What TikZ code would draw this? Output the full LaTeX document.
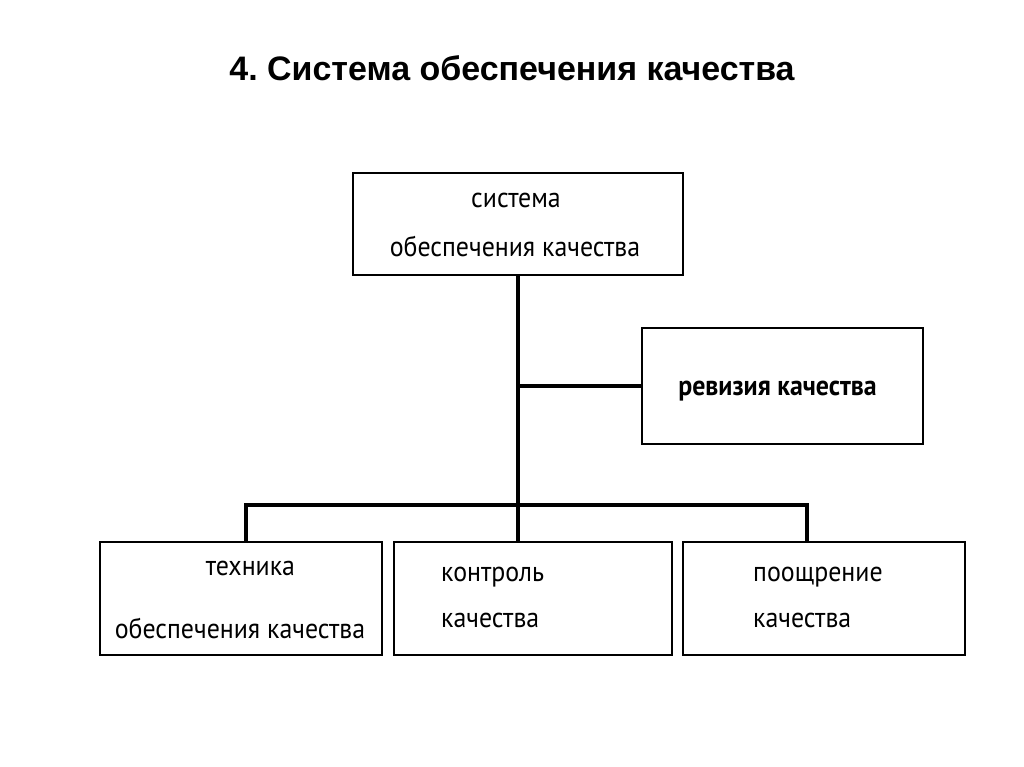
\documentclass[tikz,border=0pt]{standalone}
\usepackage{fontspec}
\setmainfont{PT Sans}[FakeStretch=0.92]
\newfontfamily\headfont{Liberation Sans}
\frenchspacing
\tikzset{
  box/.style={draw,line width=1.3pt,inner sep=0pt},
  boxtext/.style={font=\fontsize{24}{28}\selectfont,inner sep=0pt,anchor=base},
  link/.style={line width=2.6pt}
}
\begin{document}
\begin{tikzpicture}[x=0.03cm,y=-0.03cm]
\useasboundingbox (0,0) rectangle (1024,767);
\node[font=\headfont\bfseries\fontsize{29}{32}\selectfont,anchor=base,inner sep=0pt] (title) at (512,81) {4. Система обеспечения качества};

% boxes
\node[box,minimum width=9.9cm,minimum height=3.06cm] (sys) at (518,224) {};
\node[box,minimum width=8.43cm,minimum height=3.48cm] (rev) at (782.5,386) {};
\node[box,minimum width=8.46cm,minimum height=3.39cm] (tech) at (241,598.5) {};
\node[box,minimum width=8.34cm,minimum height=3.39cm] (ctrl) at (533,598.5) {};
\node[box,minimum width=8.46cm,minimum height=3.39cm] (prom) at (824,598.5) {};

% texts
\node[boxtext] (sys-a) at (516,208) {система};
\node[boxtext] (sys-b) at (515,257) {обеспечения качества};
\node[boxtext,font=\bfseries\fontsize{24}{28}\selectfont] (rev-a) at (777.5,396) {ревизия качества};
\node[boxtext] (tech-a) at (250.5,575) {техника};
\node[boxtext] (tech-b) at (240,638) {обеспечения качества};
\node[boxtext,anchor=base west] (ctrl-a) at (441,582) {контроль};
\node[boxtext,anchor=base west] (ctrl-b) at (441,627) {качества};
\node[boxtext,anchor=base west] (prom-a) at (753,582) {поощрение};
\node[boxtext,anchor=base west] (prom-b) at (753,627) {качества};

% connectors
\coordinate (busL) at (246,505);
\coordinate (busR) at (807,505);
\draw[link] (sys.south) -- (sys.south |- ctrl.north);
\draw[link] (sys.south |- rev.west) -- (rev.west);
\draw[link] (tech.north -| busL) -- (busL) -- (busR) -- (prom.north -| busR);
\end{tikzpicture}
\end{document}
